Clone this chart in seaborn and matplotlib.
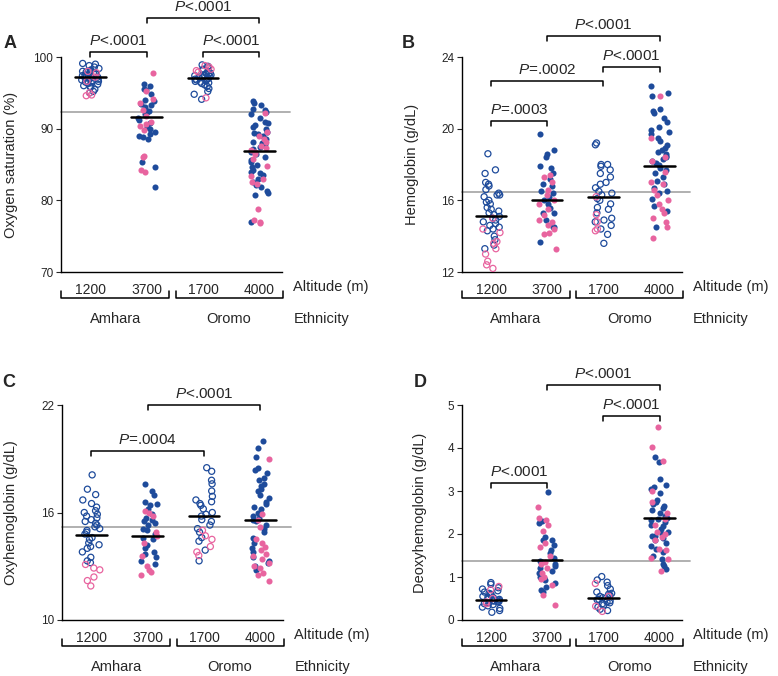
import numpy as np
import pandas as pd
import seaborn as sns
import matplotlib.pyplot as plt
from matplotlib import transforms

sns.set_style("ticks")
plt.rcParams["font.family"] = ["Liberation Sans", "DejaVu Sans"]
plt.rcParams["mathtext.fontset"] = "custom"
plt.rcParams["mathtext.rm"] = "Liberation Sans"
plt.rcParams["mathtext.it"] = "Liberation Sans:italic"

np.random.seed(7)

altitudes = ["1200", "3700", "1700", "4000"]
ethnicities = ["Amhara", "Oromo"]
open_groups = ["1200", "1700"]  # low altitude groups are open circles

BLUE = "#1e4b9b"
PINK = "#e8649f"

# A. oxygen saturation (%)
spo2_1200_blue = [99.1, 99.0, 98.8, 98.6, 98.4, 98.2, 98.1, 98.0, 97.9, 97.8, 97.7, 97.6,
                  97.5, 97.4, 97.3, 97.2, 97.1, 97.0, 96.9, 96.8, 96.7, 96.6, 96.5, 96.4,
                  96.2, 96.0, 95.8, 95.5, 95.2, 95.0, 97.5, 97.0, 96.3, 95.9]
spo2_1200_pink = [98.0, 97.8, 97.2, 96.6, 94.7, 94.6, 95.0]
spo2_3700_blue = [96.2, 96.0, 95.6, 95.4, 94.8, 94.0, 93.8, 93.5, 93.3, 93.0, 92.8, 92.5,
                  92.3, 92.0, 91.5, 91.2, 90.8, 90.2, 90.0, 89.6, 89.2, 89.0, 88.8, 88.5,
                  85.3, 84.6, 81.8]
spo2_3700_pink = [97.8, 95.3, 94.1, 93.6, 92.6, 91.8, 91.0, 90.6, 90.4, 89.8, 86.2, 86.0,
                  84.3, 84.0]
spo2_1700_blue = [98.9, 98.7, 98.5, 98.3, 98.2, 98.0, 97.8, 97.7, 97.6, 97.5, 97.4, 97.3,
                  97.2, 97.1, 97.0, 96.9, 96.8, 96.7, 96.6, 96.5, 96.4, 96.3, 96.1, 95.9,
                  95.6, 95.2, 94.8, 94.1, 97.3, 96.9, 97.5]
spo2_1700_pink = [98.8, 98.6, 98.3, 98.1, 97.9, 94.3]
spo2_4000_blue = [93.9, 93.6, 93.3, 92.8, 92.6, 92.3, 92.0, 91.5, 91.0, 90.8, 90.5, 90.2,
                  90.0, 89.6, 89.4, 89.2, 89.0, 88.6, 88.2, 88.0, 87.8, 87.5, 87.2, 86.8,
                  86.5, 86.0, 85.6, 85.3, 85.0, 84.6, 84.2, 84.0, 83.8, 83.5, 83.0, 82.6,
                  82.2, 81.9, 81.3, 81.0, 80.8, 77.0]
spo2_4000_pink = [92.2, 89.5, 89.0, 88.6, 88.2, 87.6, 87.3, 87.0, 86.8, 86.4, 85.8, 84.8,
                  83.4, 83.0, 82.6, 82.3, 78.8, 77.2, 77.0, 76.8]
spo2_means = [97.2, 91.6, 97.1, 86.9]

# B. hemoglobin (g/dL)
hb_1200_blue = [18.6, 17.7, 17.5, 17.0, 16.9, 16.8, 16.6, 16.4, 16.3, 16.2, 16.0, 15.9,
                15.8, 15.6, 15.5, 15.4, 15.3, 15.2, 15.0, 14.9, 14.8, 14.7, 14.5, 14.4,
                14.3, 14.0, 13.8, 13.5, 13.3, 16.3, 15.1, 14.6]
hb_1200_pink = [15.0, 14.4, 14.2, 13.7, 13.6, 13.3, 13.0, 12.6, 12.4, 12.2]
hb_3700_blue = [19.7, 18.8, 18.6, 18.4, 17.9, 17.8, 17.5, 17.2, 16.9, 16.8, 16.5, 16.4,
                16.2, 16.0, 15.8, 15.6, 15.3, 15.3, 14.9, 14.5, 14.5, 13.7]
hb_3700_pink = [17.4, 17.3, 17.0, 16.6, 16.3, 16.0, 15.8, 15.5, 15.2, 14.9, 14.8, 14.6,
                14.4, 14.2, 14.1, 13.3]
hb_1700_blue = [19.2, 19.1, 18.0, 18.0, 17.9, 17.7, 17.5, 17.3, 17.0, 16.9, 16.7, 16.5,
                16.4, 16.3, 16.1, 16.0, 15.8, 15.6, 15.5, 15.3, 15.0, 14.9, 14.8, 14.6,
                14.4, 14.1, 13.6]
hb_1700_pink = [16.2, 15.2, 14.8, 14.4, 14.3]
hb_4000_blue = [22.4, 22.0, 21.8, 21.1, 21.0, 20.9, 20.6, 20.4, 20.1, 19.9, 19.8, 19.7,
                19.5, 19.3, 19.1, 18.9, 18.8, 18.7, 18.6, 18.5, 18.4, 18.3, 18.2, 18.1,
                18.0, 17.8, 17.7, 17.5, 17.3, 17.1, 16.9, 16.7, 16.4, 16.1, 15.7, 15.4,
                14.5, 16.5]
hb_4000_pink = [21.8, 19.5, 18.4, 18.2, 17.6, 17.0, 16.9, 16.6, 16.3, 16.0, 15.8, 15.5,
                15.3, 15.0, 14.8, 14.5, 13.9]
hb_means = [15.13, 16.02, 16.19, 17.92]

# C. oxyhemoglobin (g/dL)
oxy_1200_blue = [18.1, 17.3, 17.0, 16.7, 16.5, 16.3, 16.1, 16.0, 15.9, 15.8, 15.7, 15.6,
                 15.5, 15.4, 15.3, 15.2, 15.1, 15.0, 14.9, 14.8, 14.6, 14.5, 14.3, 14.1,
                 14.0, 13.8, 13.5, 13.3, 13.2, 14.2]
oxy_1200_pink = [13.1, 12.9, 12.4, 12.2, 11.9, 12.8]
oxy_3700_blue = [17.6, 17.2, 17.0, 16.6, 16.5, 16.4, 16.2, 15.9, 15.7, 15.6, 15.5, 15.4,
                 15.3, 15.1, 15.0, 14.8, 14.5, 14.2, 14.0, 13.7, 13.5, 13.3, 13.1, 13.8,
                 14.6]
oxy_3700_pink = [16.1, 16.0, 15.8, 14.9, 14.7, 14.3, 13.6, 13.0, 12.8, 12.7, 12.5]
oxy_1700_blue = [18.5, 18.3, 17.8, 17.6, 17.2, 16.9, 16.7, 16.6, 16.5, 16.4, 16.2, 16.0,
                 15.9, 15.8, 15.6, 15.5, 15.3, 15.1, 14.9, 14.6, 14.4, 13.9, 13.3]
oxy_1700_pink = [14.7, 14.5, 14.1, 13.8, 13.6, 15.0]
oxy_4000_blue = [20.0, 19.6, 19.1, 18.5, 18.4, 18.2, 17.9, 17.8, 17.6, 17.5, 17.3, 17.2,
                 17.0, 16.8, 16.6, 16.5, 16.3, 16.2, 16.0, 15.8, 15.7, 15.6, 15.5, 15.3,
                 15.1, 14.9, 14.6, 14.3, 14.0, 13.8, 13.5, 13.3, 13.2, 13.0, 12.8]
oxy_4000_pink = [19.0, 15.9, 15.6, 15.2, 14.5, 14.3, 14.1, 13.9, 13.7, 13.6, 13.4, 13.2,
                 13.0, 12.9, 12.6, 12.5, 12.2]
oxy_means = [14.75, 14.69, 15.8, 15.58]

# D. deoxyhemoglobin (g/dL)
deoxy_1200_blue = [0.87, 0.83, 0.75, 0.72, 0.68, 0.65, 0.62, 0.60, 0.58, 0.55, 0.53, 0.50,
                   0.48, 0.46, 0.45, 0.43, 0.42, 0.40, 0.38, 0.36, 0.33, 0.30, 0.27, 0.22,
                   0.18, 0.52, 0.44]
deoxy_1200_pink = [0.78, 0.70, 0.50, 0.42, 0.38]
deoxy_3700_blue = [2.97, 2.30, 2.25, 1.92, 1.87, 1.85, 1.75, 1.62, 1.55, 1.45, 1.38, 1.35,
                   1.30, 1.25, 1.20, 1.15, 1.10, 1.05, 1.00, 0.98, 0.93, 0.85, 0.77, 0.70,
                   0.66]
deoxy_3700_pink = [2.62, 2.37, 2.32, 2.20, 2.07, 1.80, 1.70, 1.48, 1.35, 1.30, 1.20, 1.10,
                   1.00, 0.95, 0.82, 0.58, 0.35]
deoxy_1700_blue = [1.01, 0.93, 0.88, 0.80, 0.72, 0.65, 0.60, 0.58, 0.55, 0.52, 0.50, 0.48,
                   0.45, 0.42, 0.40, 0.38, 0.35, 0.30, 0.25, 0.22, 0.62, 0.47]
deoxy_1700_pink = [0.85, 0.32, 0.20, 0.55]
deoxy_4000_blue = [3.78, 3.67, 3.28, 3.15, 3.10, 3.05, 2.95, 2.80, 2.75, 2.65, 2.60, 2.55,
                   2.48, 2.42, 2.38, 2.32, 2.28, 2.22, 2.18, 2.12, 2.05, 2.00, 1.95, 1.90,
                   1.85, 1.78, 1.72, 1.65, 1.58, 1.50, 1.42, 1.30, 1.25, 1.18, 2.35, 2.70,
                   1.95]
deoxy_4000_pink = [4.50, 4.02, 3.70, 3.00, 2.75, 2.50, 2.35, 2.20, 2.05, 2.00, 1.92, 1.85,
                   1.65, 1.62, 1.45, 1.42, 1.15]
deoxy_means = [0.47, 1.40, 0.51, 2.37]

# reference (grey) lines
ref_lines = [92.3, 16.47, 15.19, 1.37]

# significance brackets: (group i, group j, y, p text)
spo2_brackets = [(0, 1, 100.7, "<.0001"), (2, 3, 100.7, "<.0001"), (1, 3, 105.4, "<.0001")]
hb_brackets = [(0, 1, 20.43, "=.0003"), (0, 2, 22.66, "=.0002"),
               (2, 3, 23.44, "<.0001"), (1, 3, 25.17, "<.0001")]
oxy_brackets = [(0, 2, 19.43, "=.0004"), (1, 3, 22.0, "<.0001")]
deoxy_brackets = [(0, 1, 3.19, "<.0001"), (2, 3, 4.74, "<.0001"), (1, 3, 5.47, "<.0001")]

panels = [
    ("A", "Oxygen saturation (%)", [70, 80, 90, 100], (70, 100),
     [(spo2_1200_blue, spo2_1200_pink), (spo2_3700_blue, spo2_3700_pink),
      (spo2_1700_blue, spo2_1700_pink), (spo2_4000_blue, spo2_4000_pink)],
     spo2_means, spo2_brackets),
    ("B", "Hemoglobin (g/dL)", [12, 16, 20, 24], (12, 24),
     [(hb_1200_blue, hb_1200_pink), (hb_3700_blue, hb_3700_pink),
      (hb_1700_blue, hb_1700_pink), (hb_4000_blue, hb_4000_pink)],
     hb_means, hb_brackets),
    ("C", "Oxyhemoglobin (g/dL)", [10, 16, 22], (10, 22),
     [(oxy_1200_blue, oxy_1200_pink), (oxy_3700_blue, oxy_3700_pink),
      (oxy_1700_blue, oxy_1700_pink), (oxy_4000_blue, oxy_4000_pink)],
     oxy_means, oxy_brackets),
    ("D", "Deoxyhemoglobin (g/dL)", [0, 1, 2, 3, 4, 5], (0, 5),
     [(deoxy_1200_blue, deoxy_1200_pink), (deoxy_3700_blue, deoxy_3700_pink),
      (deoxy_1700_blue, deoxy_1700_pink), (deoxy_4000_blue, deoxy_4000_pink)],
     deoxy_means, deoxy_brackets),
]

# axes boxes in pixels: left, top, right, bottom (figure 778x676)
W, H = 778, 676
boxes = [(61, 57, 282, 272), (462, 57, 682, 272), (62, 405, 283, 620), (462, 405, 682, 620)]
letter_pos = [(4, 43), (402, 43), (2, 383), (414, 383)]
ylabel_x = [-0.195, -0.195, -0.2, -0.16]

fig = plt.figure(figsize=(W / 100, H / 100), dpi=100)

for k, (letter, ylab, yticks, ylim, groups, means, brackets) in enumerate(panels):
    l, t, r, b = boxes[k]
    ax = fig.add_axes([l / W, 1 - b / H, (r - l) / W, (b - t) / H])

    rows = []
    for alt, (blue, pink) in zip(altitudes, groups):
        rows += [(alt, "blue", v) for v in blue]
        rows += [(alt, "pink", v) for v in pink]
    df = pd.DataFrame(rows, columns=["altitude", "sex", "value"])

    for alt in altitudes:
        for sex, col in [("blue", BLUE), ("pink", PINK)]:
            sub = df[(df["altitude"] == alt) & (df["sex"] == sex)]
            n_before = len(ax.collections)
            sns.stripplot(data=sub, x="altitude", y="value", order=altitudes,
                          color=col, size=4.4, jitter=0.16, linewidth=0,
                          legend=False, ax=ax, zorder=3)
            if alt in open_groups:
                for coll in ax.collections[n_before:]:
                    coll.set_facecolor("none")
                    coll.set_edgecolor(col)
                    coll.set_linewidth(0.9)

    # mean bars
    for i, m in enumerate(means):
        ax.plot([i - 0.27, i + 0.27], [m, m], color="black", lw=1.8, zorder=5)

    # grey reference line
    ax.plot([-0.52, 3.55], [ref_lines[k], ref_lines[k]], color="#aaaaaa", lw=1.3,
            zorder=1, clip_on=False)

    ax.set_xlim(-0.52, 3.4)
    ax.set_ylim(*ylim)
    ax.set_yticks(yticks)
    ax.set_yticklabels([str(v) for v in yticks], fontsize=8.5)
    ax.set_xticks(range(len(altitudes)))
    ax.set_xticklabels(altitudes, fontsize=10)
    ax.tick_params(axis="x", length=0, pad=8)
    ax.tick_params(axis="y", length=3.5, width=0.8, pad=2)
    ax.set_xlabel("")
    ax.set_ylabel(ylab, fontsize=10.5)
    ax.yaxis.set_label_coords(ylabel_x[k], 0.5)
    sns.despine(ax=ax)
    for s in ["left", "bottom"]:
        ax.spines[s].set_linewidth(1.0)
        ax.spines[s].set_color("black")

    # significance brackets
    tick = 0.023 * (ylim[1] - ylim[0])
    for i, j, y, ptxt in brackets:
        ax.plot([i, i, j, j], [y - tick, y, y, y - tick], color="black", lw=1.1,
                clip_on=False)
        ax.annotate(r"$P$" + ptxt, xy=((i + j) / 2, y), xytext=(0, 3),
                    textcoords="offset points", ha="center", va="bottom",
                    fontsize=11, annotation_clip=False)

    # altitude / ethnicity annotations under the axis
    trans = transforms.blended_transform_factory(ax.transData, ax.transAxes)
    ax.text(3.6, -0.072, "Altitude (m)", transform=trans, ha="left", va="center",
            fontsize=10.5)
    ax.text(3.6, -0.219, "Ethnicity", transform=trans, ha="left", va="center",
            fontsize=10.5)
    for (x0, x1), name, xc in zip([(-0.52, 1.4), (1.52, 3.42)], ethnicities, [0.44, 2.46]):
        ax.plot([x0, x0, x1, x1], [-0.09, -0.12, -0.12, -0.09], color="black", lw=1.1,
                transform=trans, clip_on=False)
        ax.text(xc, -0.219, name, transform=trans, ha="center", va="center",
                fontsize=10.5)

    lx, ly = letter_pos[k]
    fig.text(lx / W, 1 - ly / H, letter, fontsize=13, fontweight="bold",
             ha="left", va="center")

fig.savefig("out.png", dpi=100)
